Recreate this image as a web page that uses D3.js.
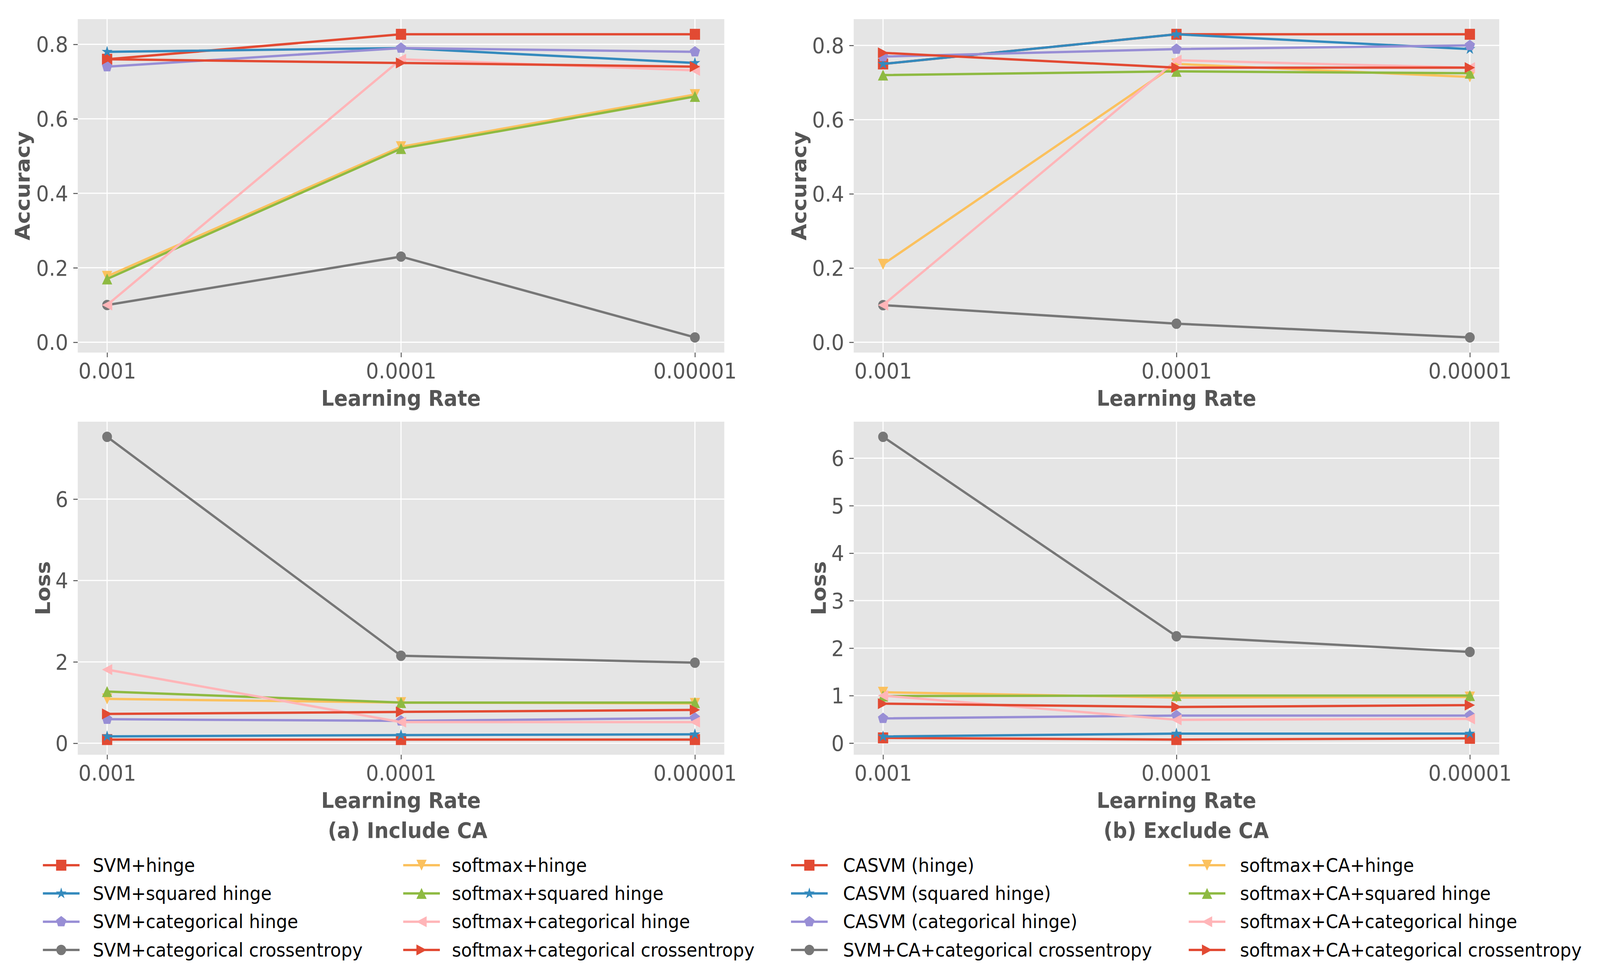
<!DOCTYPE html>
<html><head><meta charset="utf-8">
<script src="https://cdn.jsdelivr.net/npm/d3@7/dist/d3.min.js"></script>
<style>html,body{margin:0;padding:0;width:100%;height:100%;overflow:hidden;background:#fff}svg{display:block;width:100vw;height:100vh}</style>
</head><body><svg id="chart"></svg>
<script>
// ---------- data ----------
const learningRates = ["0.001", "0.0001", "0.00001"];

const namesInclude = ["SVM+hinge", "SVM+squared hinge", "SVM+categorical hinge", "SVM+categorical crossentropy",
  "softmax+hinge", "softmax+squared hinge", "softmax+categorical hinge", "softmax+categorical crossentropy"];
const namesExclude = ["CASVM (hinge)", "CASVM (squared hinge)", "CASVM (categorical hinge)", "SVM+CA+categorical crossentropy",
  "softmax+CA+hinge", "softmax+CA+squared hinge", "softmax+CA+categorical hinge", "softmax+CA+categorical crossentropy"];

// accuracy, include CA (one row per series, in legend order)
const accInclude = [
  [0.76, 0.827, 0.827],
  [0.78, 0.79, 0.75],
  [0.74, 0.79, 0.78],
  [0.10, 0.23, 0.013],
  [0.177, 0.525, 0.665],
  [0.17, 0.52, 0.66],
  [0.10, 0.76, 0.73],
  [0.76, 0.75, 0.74]
];
// accuracy, exclude CA
const accExclude = [
  [0.75, 0.83, 0.83],
  [0.75, 0.83, 0.79],
  [0.77, 0.79, 0.80],
  [0.10, 0.05, 0.013],
  [0.21, 0.75, 0.715],
  [0.72, 0.73, 0.725],
  [0.10, 0.76, 0.74],
  [0.78, 0.74, 0.74]
];
// loss, include CA
const lossInclude = [
  [0.09, 0.09, 0.09],
  [0.17, 0.20, 0.22],
  [0.59, 0.55, 0.62],
  [7.53, 2.15, 1.98],
  [1.09, 1.00, 0.98],
  [1.27, 1.00, 1.00],
  [1.81, 0.52, 0.52],
  [0.72, 0.77, 0.82]
];
// loss, exclude CA
const lossExclude = [
  [0.11, 0.074, 0.10],
  [0.14, 0.20, 0.20],
  [0.52, 0.58, 0.58],
  [6.45, 2.25, 1.92],
  [1.07, 0.96, 0.97],
  [0.99, 1.00, 1.00],
  [1.00, 0.49, 0.51],
  [0.83, 0.76, 0.80]
];

const accTicks = [0, 0.2, 0.4, 0.6, 0.8];
const lossTicksInclude = [0, 2, 4, 6];
const lossTicksExclude = [0, 1, 2, 3, 4, 5, 6];
const subtitles = ["(a) Include CA", "(b) Exclude CA"];

// ---------- styles ----------
const colors = ["#E24A33", "#348ABD", "#988ED5", "#777777", "#FBC15E", "#8EBA42", "#FFB5B8", "#E24A33"];
const markers = ["s", "*", "p", "o", "v", "^", "<", ">"];

const W = 4365, H = 2510;
const svg = d3.select("#chart").attr("viewBox", `0 0 ${W} ${H}`).attr("preserveAspectRatio", "none");
svg.append("rect").attr("width", W).attr("height", H).attr("fill", "#fff");

const FONT = "'DejaVu Sans', sans-serif";
const MS = 28, LW = 6;

function markerPath(type, s) {
  const h = s / 2;
  const poly = (pts) => "M" + pts.map(p => p[0].toFixed(2) + "," + p[1].toFixed(2)).join("L") + "Z";
  switch (type) {
    case "s": return `M${-h},${-h}H${h}V${h}H${-h}Z`;
    case "^": return `M0,${-h}L${h},${h}L${-h},${h}Z`;
    case "v": return `M0,${h}L${h},${-h}L${-h},${-h}Z`;
    case "<": return `M${-h},0L${h},${-h}L${h},${h}Z`;
    case ">": return `M${h},0L${-h},${h}L${-h},${-h}Z`;
    case "o": { const p = d3.path(); p.arc(0, 0, h * 0.95, 0, 2 * Math.PI); p.closePath(); return p.toString(); }
    case "*": {
      const pts = [];
      for (let i = 0; i < 10; i++) {
        const r = i % 2 === 0 ? h * 1.1 : h * 1.1 * 0.382;
        const a = -Math.PI / 2 + i * Math.PI / 5;
        pts.push([r * Math.cos(a), r * Math.sin(a)]);
      }
      return poly(pts);
    }
    case "p": {
      const pts = [];
      for (let i = 0; i < 5; i++) {
        const a = -Math.PI / 2 + i * 2 * Math.PI / 5;
        pts.push([h * 1.05 * Math.cos(a), h * 1.05 * Math.sin(a)]);
      }
      return poly(pts);
    }
  }
}

const panels = [
  { x0: 212, x1: 1976, y0: 49, y1: 903, data: accInclude, ticks: accTicks, fmt: d3.format(".1f"), ylabel: "Accuracy", ylabX: 62 },
  { x0: 2329, x1: 4090, y0: 49, y1: 903, data: accExclude, ticks: accTicks, fmt: d3.format(".1f"), ylabel: "Accuracy", ylabX: 2180 },
  { x0: 212, x1: 1976, y0: 1080, y1: 1933, data: lossInclude, ticks: lossTicksInclude, fmt: d3.format("d"), ylabel: "Loss", ylabX: 117 },
  { x0: 2329, x1: 4090, y0: 1080, y1: 1933, data: lossExclude, ticks: lossTicksExclude, fmt: d3.format("d"), ylabel: "Loss", ylabX: 2234 }
];

panels.forEach(P => {
  const g = svg.append("g");
  const idx = learningRates.map((d, i) => i);
  const x = d3.scaleLinear().domain([-0.1, 2.1]).range([P.x0, P.x1]);
  const all = P.data.flat();
  const mn = d3.min(all), mx = d3.max(all), pad = (mx - mn) * 0.05;
  const y = d3.scaleLinear().domain([mn - pad, mx + pad]).range([P.y1, P.y0]);

  g.append("rect").attr("x", P.x0).attr("y", P.y0).attr("width", P.x1 - P.x0).attr("height", P.y1 - P.y0).attr("fill", "#E5E5E5");

  // grid
  g.selectAll(".gy").data(P.ticks).join("line")
    .attr("x1", P.x0).attr("x2", P.x1).attr("y1", d => y(d)).attr("y2", d => y(d))
    .attr("stroke", "#fff").attr("stroke-width", 3);
  g.selectAll(".gx").data(idx).join("line")
    .attr("x1", d => x(d)).attr("x2", d => x(d)).attr("y1", P.y0).attr("y2", P.y1)
    .attr("stroke", "#fff").attr("stroke-width", 3);

  // y axis
  const yAxis = d3.axisLeft(y).tickValues(P.ticks).tickFormat(P.fmt).tickSize(12).tickPadding(14);
  const ya = g.append("g").attr("transform", `translate(${P.x0},0)`).call(yAxis);
  ya.select(".domain").remove();
  ya.selectAll(".tick line").attr("stroke", "#555").attr("stroke-width", 2.5);
  ya.selectAll(".tick text").attr("fill", "#555").attr("font-size", 55).attr("font-family", FONT).attr("dy", "0.35em");

  // x axis
  const xAxis = d3.axisBottom(x).tickValues(idx).tickFormat(i => learningRates[i]).tickSize(12).tickPadding(12);
  const xa = g.append("g").attr("transform", `translate(0,${P.y1})`).call(xAxis);
  xa.select(".domain").remove();
  xa.selectAll(".tick line").attr("stroke", "#555").attr("stroke-width", 2.5);
  xa.selectAll(".tick text").attr("fill", "#555").attr("font-size", 55).attr("font-family", FONT).attr("dy", "0.76em");

  // labels
  g.append("text").attr("x", (P.x0 + P.x1) / 2).attr("y", P.y1 + 136)
    .attr("text-anchor", "middle").attr("font-family", FONT).attr("font-weight", "bold")
    .attr("font-size", 55).attr("fill", "#555").text("Learning Rate");
  g.append("text").attr("transform", `translate(${P.ylabX},${(P.y0 + P.y1) / 2}) rotate(-90)`)
    .attr("dy", "0.35em").attr("text-anchor", "middle").attr("font-family", FONT).attr("font-weight", "bold")
    .attr("font-size", 55).attr("fill", "#555").text(P.ylabel);

  // series
  const line = d3.line().x((d, i) => x(i)).y(d => y(d));
  P.data.forEach((vals, s) => {
    const sg = g.append("g");
    sg.append("path").attr("d", line(vals)).attr("fill", "none").attr("stroke", colors[s])
      .attr("stroke-width", LW).attr("stroke-linejoin", "round");
    sg.selectAll("path.m").data(vals).join("path").attr("class", "m")
      .attr("transform", (d, i) => `translate(${x(i)},${y(d)})`)
      .attr("d", markerPath(markers[s], MS)).attr("fill", colors[s]);
  });
});

// subtitles
[[1112, subtitles[0]], [3236, subtitles[1]]].forEach(([cx, t]) => {
  svg.append("text").attr("x", cx).attr("y", 2127).attr("dy", "0.35em").attr("text-anchor", "middle")
    .attr("font-family", FONT).attr("font-weight", "bold").attr("font-size", 55).attr("fill", "#555").text(t);
});

// legends
const legendCols = [
  { lx: 117, tx: 253, names: namesInclude.slice(0, 4), start: 0 },
  { lx: 1100, tx: 1233, names: namesInclude.slice(4), start: 4 },
  { lx: 2158, tx: 2300, names: namesExclude.slice(0, 4), start: 0 },
  { lx: 3243, tx: 3383, names: namesExclude.slice(4), start: 4 }
];
const rowY = d3.scaleLinear().domain([0, 3]).range([2216, 2433]);
legendCols.forEach(c => {
  c.names.forEach((name, r) => {
    const s = c.start + r, yy = rowY(r);
    const lg = svg.append("g");
    lg.append("line").attr("x1", c.lx).attr("x2", c.lx + 100).attr("y1", yy).attr("y2", yy)
      .attr("stroke", colors[s]).attr("stroke-width", LW);
    lg.append("path").attr("transform", `translate(${c.lx + 50},${yy})`).attr("d", markerPath(markers[s], MS)).attr("fill", colors[s]);
    lg.append("text").attr("x", c.tx).attr("y", yy).attr("dy", "0.35em").attr("font-family", FONT)
      .attr("font-size", 48).attr("fill", "#000").text(name);
  });
});
</script>
</body></html>
